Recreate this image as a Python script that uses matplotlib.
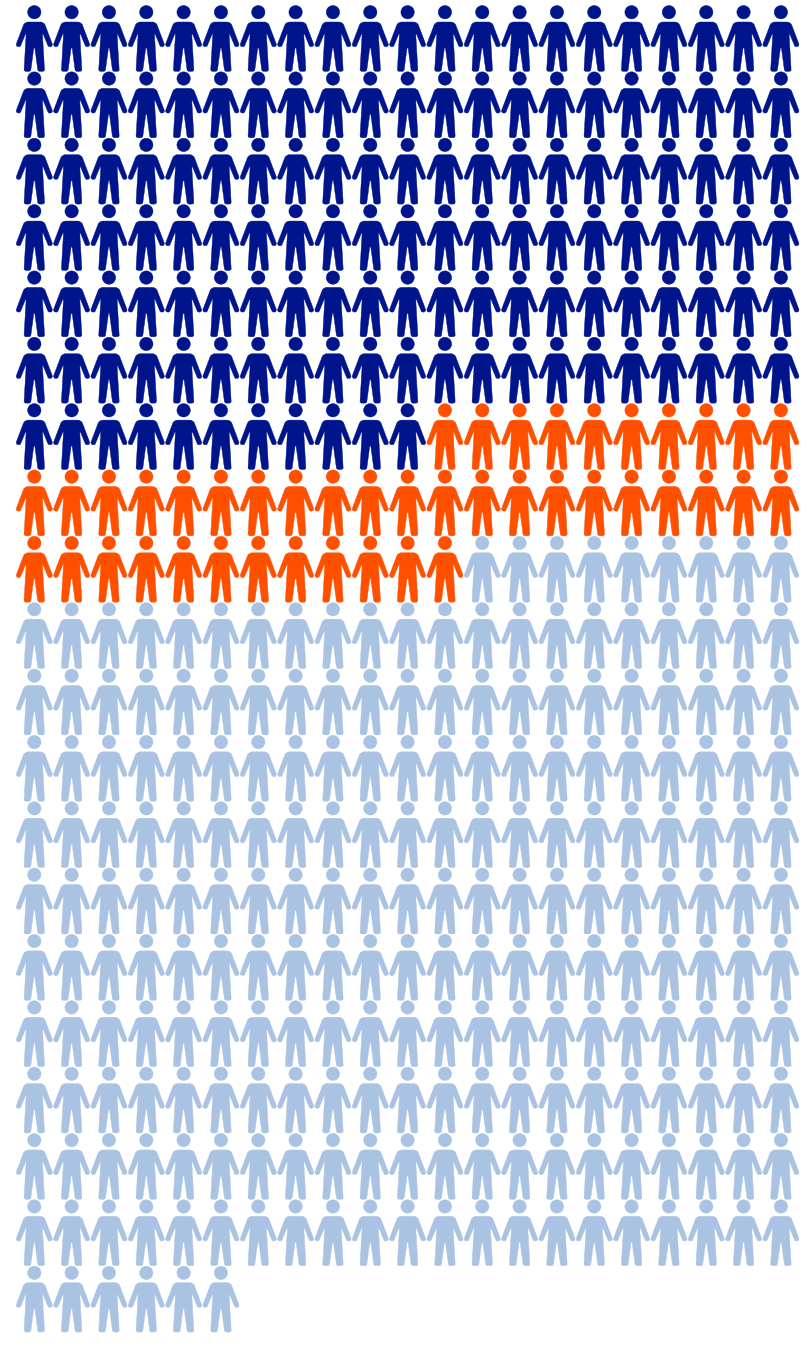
#!/usr/bin/env python3
import numpy as np
import matplotlib
matplotlib.use("Agg")
import matplotlib.pyplot as plt
from matplotlib.path import Path

# people per group, in reading order
counts = [137, 43, 225]
colors = ["#00148c", "#ff5000", "#aac3e3"]
per_row = 21

L, Q = Path.LINETO, Path.CURVE3

# right half of the body, from the neck to the crotch (px, y down, x from the icon's centre)
half_pts = [(0, 22), (6, 22), (9.5, 22), (10.8, 25), (17.8, 43.5), (18.9, 46.2), (16.3, 46.6),
            (15.2, 46.7), (14.2, 46.7), (13.6, 45.6), (8.9, 34.2), (8.3, 32.8), (8.2, 35), (10.2, 69.5),
            (10.4, 71.4), (8, 71.4), (5.6, 71.4), (3.6, 71.4), (3.4, 69.5), (0.6, 48.5), (0, 47.5)]
half_codes = [Path.MOVETO, L, Q, Q, L, Q, Q, L, Q, Q, L, Q, Q, L, Q, Q, L, Q, Q, L, L]


def person_marker():
    v = np.array(half_pts, dtype=float)
    mirrored = v[-2::-1] * [-1, 1]
    body = Path(np.vstack([v, mirrored]), half_codes + half_codes[:0:-1])
    head = Path.circle((0, 12.2), 6.7)
    icon = Path.make_compound_path(body, head)
    verts = icon.vertices.copy()
    top, bottom = 5.5, 71.4
    verts[:, 1] = -(verts[:, 1] - (top + bottom) / 2)
    return Path(verts, icon.codes), bottom - top


def main():
    marker, height_px = person_marker()

    idx = np.arange(sum(counts))
    fig = plt.figure(figsize=(8.1, 13.48), dpi=100)
    ax = fig.add_axes([0, 0, 1, 1])
    ax.scatter(idx % per_row, idx // per_row, marker=marker, s=(height_px * 72 / 100) ** 2,
               c=np.repeat(colors, counts), edgecolors="face", linewidths=0.3)
    # grid pitch 37.33 x 66.35 px, first icon centred at (34.3, 38.45)
    ax.set_xlim(-34.3 / 37.33, (810 - 34.3) / 37.33)
    ax.set_ylim((1348 - 38.45) / 66.35, -38.45 / 66.35)
    ax.axis("off")
    fig.savefig("out.png", dpi=100)


if __name__ == "__main__":
    main()
